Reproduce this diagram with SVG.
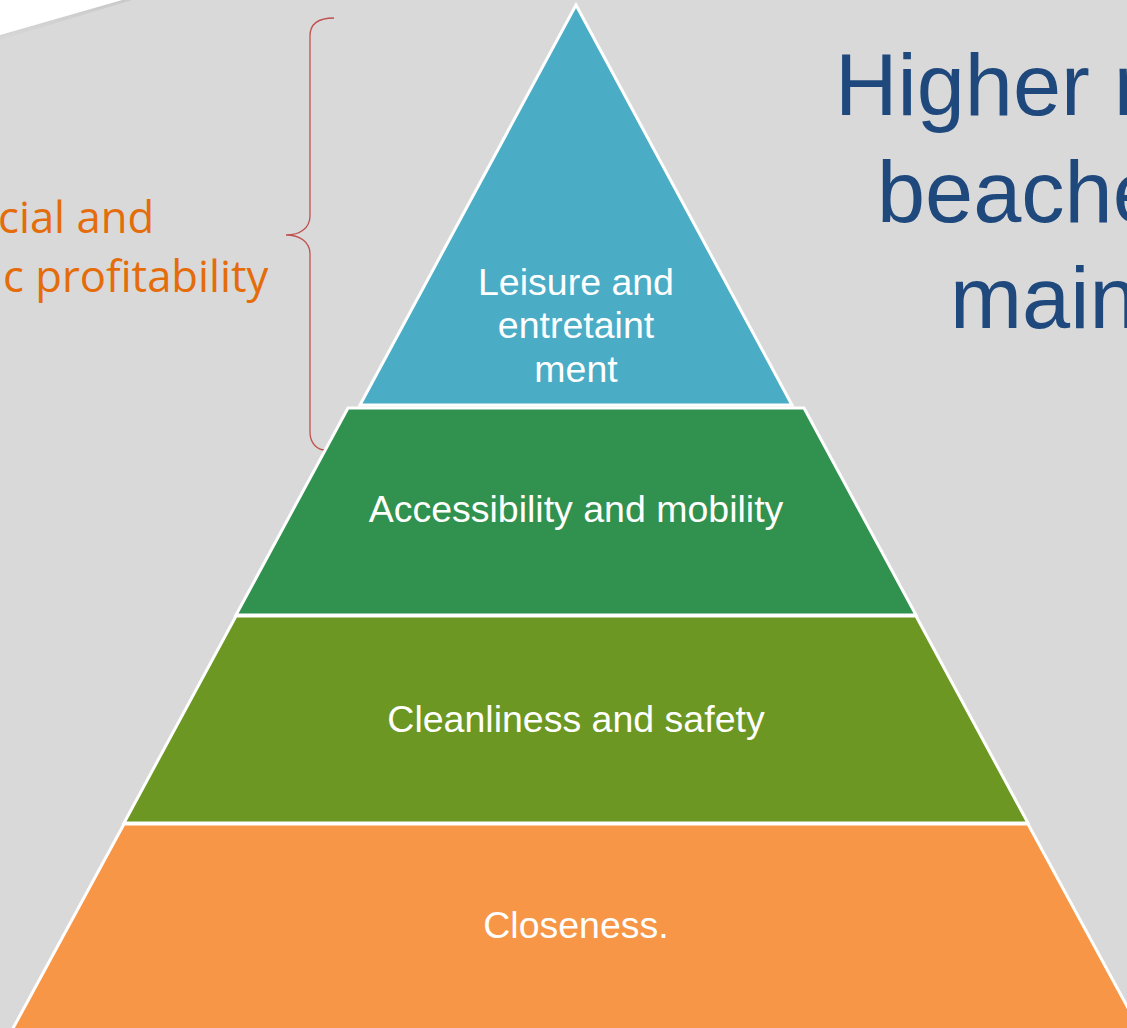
<svg xmlns="http://www.w3.org/2000/svg" width="1127" height="1028" viewBox="0 0 1127 1028">
<style>
.layer{stroke:#ffffff;stroke-width:3;stroke-linejoin:miter}
.lbl{font-family:"Liberation Sans",Arial,sans-serif;font-size:37.5px;fill:#ffffff;text-anchor:middle}
.big{font-family:"Liberation Sans",Arial,sans-serif;font-size:86.5px;fill:#1f497d}
.side{font-family:"Open Sans","Noto Sans",sans-serif;font-size:43.6px;fill:#e46c0a}
</style>
<defs>
<linearGradient id="sh" x1="0" y1="0" x2="0.3" y2="1">
<stop offset="0" stop-color="#bfbfbf"/>
<stop offset="1" stop-color="#d9d9d9"/>
</linearGradient>
</defs>
<rect x="0" y="0" width="1127" height="1028" fill="#d9d9d9"/>
<polygon points="0,35 122,0 132,0 0,40" fill="url(#sh)" opacity="0.8"/>
<polygon points="0,0 122,0 0,35" fill="#ffffff"/>

<g id="brace">
<path d="M334,18 C318,18 310,24 310,36 L310,216 C310,228 300,235 286,235 C300,235 310,242 310,254 L310,432 C310,444 318,450 325,450" fill="none" stroke="#c0504d" stroke-width="1.3"/>
</g>

<g id="side-label">
<text class="side" x="-2" y="233">cial and</text>
<text class="side" x="3" y="292">c profitability</text>
</g>

<g id="title">
<text class="big" x="835" y="115">Higher r</text>
<text class="big" x="877" y="222">beache</text>
<text class="big" x="950" y="328">main</text>
</g>

<g id="level-leisure">
<polygon class="layer" points="576,5 360,405 792,405" fill="#4bacc6"/>
<text class="lbl" x="576" y="295">Leisure and</text>
<text class="lbl" x="576" y="338">entretaint</text>
<text class="lbl" x="576" y="382">ment</text>
</g>

<g id="level-accessibility">
<polygon class="layer" points="348,408 804,408 916,615 236,615" fill="#31914e"/>
<text class="lbl" x="576" y="522">Accessibility and mobility</text>
</g>

<g id="level-cleanliness">
<polygon class="layer" points="236,616 916,616 1028,823 124,823" fill="#6b9722"/>
<text class="lbl" x="576" y="732">Cleanliness and safety</text>
</g>

<g id="level-closeness">
<polygon class="layer" points="124,824 1028,824 1141,1032 11,1032" fill="#f79646"/>
<text class="lbl" x="576" y="938">Closeness.</text>
</g>
</svg>
